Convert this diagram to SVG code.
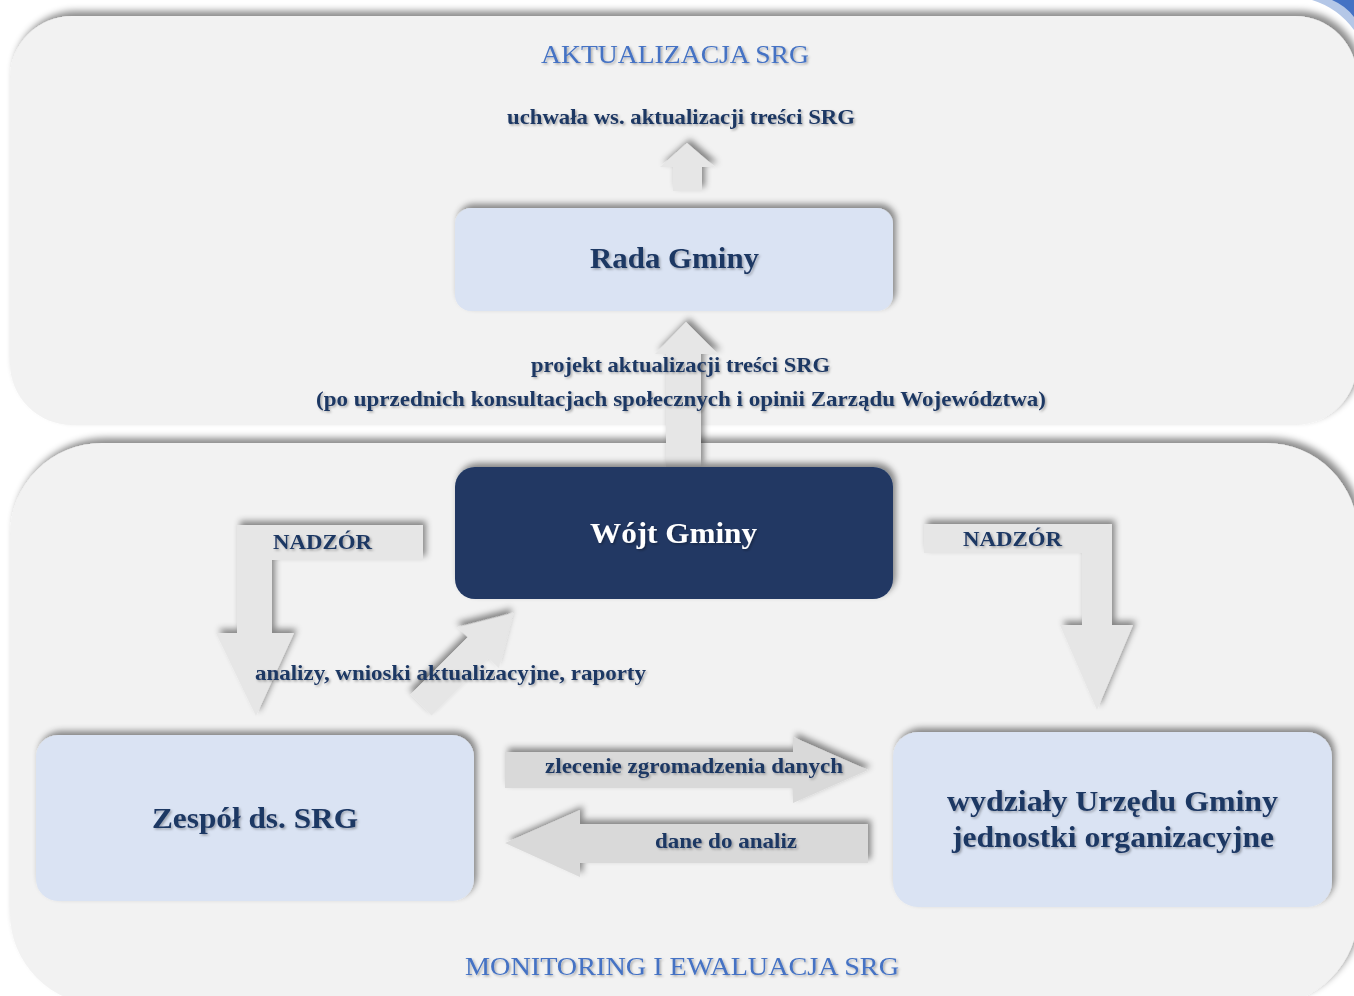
<svg xmlns="http://www.w3.org/2000/svg" width="1354" height="996" viewBox="0 0 1354 996">
  <defs>
    <filter id="sh" x="-15%" y="-25%" width="130%" height="150%">
      <feDropShadow dx="3" dy="-4" stdDeviation="3" flood-color="#000" flood-opacity="0.45"/>
    </filter>
    <filter id="psh" x="-5%" y="-10%" width="110%" height="120%">
      <feDropShadow dx="4" dy="-5" stdDeviation="3.5" flood-color="#000" flood-opacity="0.45"/>
    </filter>
    <filter id="ts" x="-5%" y="-30%" width="110%" height="160%">
      <feDropShadow dx="1.5" dy="1.5" stdDeviation="1" flood-color="#000" flood-opacity="0.3"/>
    </filter>
  </defs>
  <style>
    .panel { fill: #f2f2f2; filter: url(#psh); }
    .box { fill: #dae3f3; filter: url(#sh); }
    .dark { fill: #203864; filter: url(#sh); }
    .arr { fill: #e6e6e6; filter: url(#sh); }
    .harr { fill: #d9d9d9; filter: url(#sh); }
    text { font-family: "Liberation Serif", "DejaVu Serif", serif; text-anchor: middle; filter: url(#ts); }
    .title { font-size: 25px; fill: #4472c4; }
    .lbl { font-size: 21px; font-weight: bold; fill: #1f3864; }
    .node { font-size: 29px; font-weight: bold; fill: #1f3864; }
    .nodew { font-size: 29px; font-weight: bold; fill: #ffffff; }
  </style>
  <rect x="0" y="0" width="1354" height="996" fill="#ffffff"/>
  <path d="M1312,0 Q1338,8 1354,30 V0 Z" fill="#b4c7e7"/>
  <path d="M1332,0 Q1346,6 1354,17 V0 Z" fill="#4472c4"/>

  <g id="panel-aktualizacja">
    <rect class="panel" x="10" y="16" width="1347" height="409" rx="62"/>
    <text class="title" x="675" y="63" textLength="268" lengthAdjust="spacingAndGlyphs">AKTUALIZACJA SRG</text>
  </g>
  <g id="panel-monitoring">
    <rect class="panel" x="10" y="443" width="1348" height="562" rx="92"/>
    <text class="title" x="682" y="975" textLength="434" lengthAdjust="spacingAndGlyphs">MONITORING I EWALUACJA SRG</text>
  </g>

  <g id="connectors">
    <path class="arr" d="M673,191 V167 H660 L687,143 L715,167 H702 V191 Z"/>
    <path class="arr" d="M666,467 V354 H655 L686,322 L718,354 H701 V467 Z"/>
    <path class="arr" d="M237,525 H423 V560 H272 V633 H294 L256,716 L216,633 H237 Z"/>
    <path class="arr" d="M924,524 H1112 V625 H1133 L1097,710 L1060,625 H1082 V553 H924 Z"/>
    <path class="arr" transform="translate(421,705) rotate(-45)" d="M0,-15 H81 V-29 L130,0 L81,29 V15 H0 Z"/>
    <path class="harr" d="M505,752 H793 V737 L868,770 L793,803 V788 H505 Z"/>
    <path class="harr" d="M868,824 H580 V810 L505,843 L580,877 V863 H868 Z"/>
    <text class="lbl" x="681" y="124" textLength="348" lengthAdjust="spacingAndGlyphs">uchwała ws. aktualizacji treści SRG</text>
    <text class="lbl" x="680.5" y="372" textLength="299" lengthAdjust="spacingAndGlyphs">projekt aktualizacji treści SRG</text>
    <text class="lbl" x="681" y="406" textLength="730" lengthAdjust="spacingAndGlyphs">(po uprzednich konsultacjach społecznych i opinii Zarządu Województwa)</text>
    <text class="lbl" x="322.5" y="549" textLength="99" lengthAdjust="spacingAndGlyphs">NADZÓR</text>
    <text class="lbl" x="1012.5" y="546" textLength="99" lengthAdjust="spacingAndGlyphs">NADZÓR</text>
    <text class="lbl" x="450.5" y="680" textLength="391" lengthAdjust="spacingAndGlyphs">analizy, wnioski aktualizacyjne, raporty</text>
    <text class="lbl" x="694" y="773" textLength="298" lengthAdjust="spacingAndGlyphs">zlecenie zgromadzenia danych</text>
    <text class="lbl" x="726" y="848" textLength="142" lengthAdjust="spacingAndGlyphs">dane do analiz</text>
  </g>

  <g id="rada-gminy">
    <rect class="box" x="455" y="208" width="438" height="103" rx="16"/>
    <text class="node" x="674.5" y="268" textLength="169" lengthAdjust="spacingAndGlyphs">Rada Gminy</text>
  </g>
  <g id="wojt-gminy">
    <rect class="dark" x="455" y="467" width="438" height="132" rx="20"/>
    <text class="nodew" x="673.5" y="543" textLength="167" lengthAdjust="spacingAndGlyphs">Wójt Gminy</text>
  </g>
  <g id="zespol-srg">
    <rect class="box" x="36" y="735" width="438" height="166" rx="22"/>
    <text class="node" x="255" y="828" textLength="206" lengthAdjust="spacingAndGlyphs">Zespół ds. SRG</text>
  </g>
  <g id="wydzialy">
    <rect class="box" x="893" y="732" width="439" height="175" rx="25"/>
    <text class="node" x="1112.5" y="811" textLength="331" lengthAdjust="spacingAndGlyphs">wydziały Urzędu Gminy</text>
    <text class="node" x="1113" y="847" textLength="322" lengthAdjust="spacingAndGlyphs">jednostki organizacyjne</text>
  </g>
</svg>
